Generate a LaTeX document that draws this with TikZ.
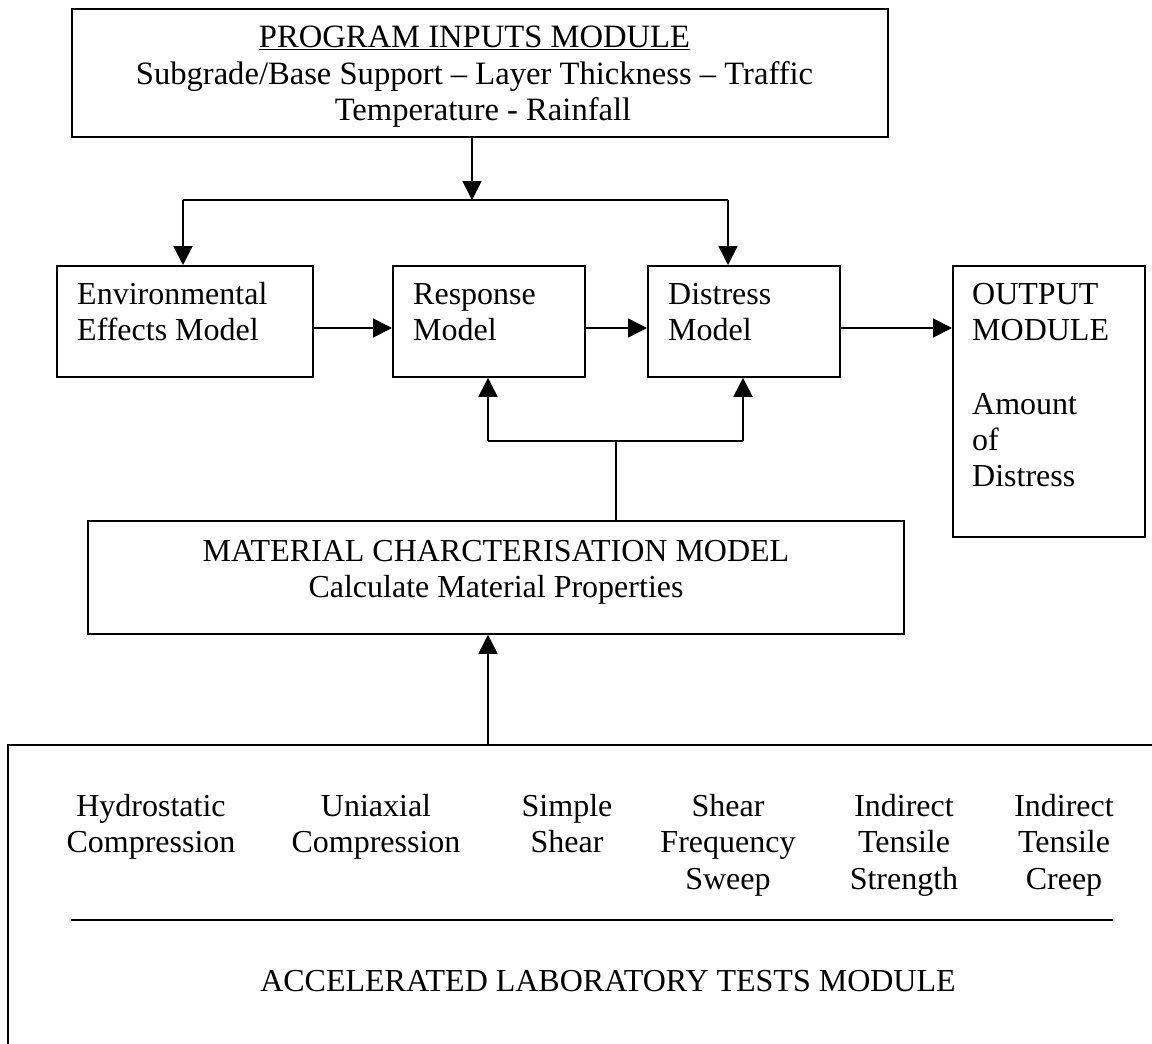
\documentclass[tikz,border=0pt]{standalone}
\usepackage{fontspec}
\setmainfont{Liberation Serif}
\usetikzlibrary{arrows.meta}
\begin{document}
\begin{tikzpicture}[x=1pt,y=-1pt,
  box/.style={draw, line width=1.8pt, inner sep=0pt, anchor=north west},
  txt/.style={inner sep=0pt, font=\fontsize{32}{36}\selectfont},
  bigtxt/.style={inner sep=0pt, font=\fontsize{32.6}{36}\selectfont},
  conn/.style={line width=1.8pt},
  arr/.style={conn, -{Triangle[length=19pt,width=19pt]}},
]
\clip (0,0) rectangle (1152,1044);
\fill[white] (0,0) rectangle (1152,1044);
% boxes
\node[box, minimum width=816pt, minimum height=128pt] (inp) at (71,8) {};
\node[box, minimum width=256pt, minimum height=111pt] (env) at (56,265) {};
\node[box, minimum width=192pt, minimum height=111pt] (resp) at (392,265) {};
\node[box, minimum width=192pt, minimum height=111pt] (dis) at (647,265) {};
\node[box, minimum width=192pt, minimum height=271pt] (out) at (952,265) {};
\node[box, minimum width=816pt, minimum height=113pt] (mat) at (87,520) {};
\node[box, minimum width=1250pt, minimum height=400pt] (lab) at (7,744) {};
% texts
\node[bigtxt, anchor=base] (ti1) at (474.5,47) {\underline{PROGRAM INPUTS MODULE}};
\node[bigtxt, anchor=base] (ti2) at (474.5,84) {Subgrade/Base Support -- Layer Thickness -- Traffic};
\node[bigtxt, anchor=base] (ti3) at (483,120) {Temperature - Rainfall};
\node[txt, anchor=base west] (te1) at (77,304) {Environmental};
\node[txt, anchor=base west] (te2) at (77,340) {Effects Model};
\node[txt, anchor=base west] (tr1) at (413,304) {Response};
\node[txt, anchor=base west] (tr2) at (413,340) {Model};
\node[txt, anchor=base west] (td1) at (668,304) {Distress};
\node[txt, anchor=base west] (td2) at (668,340) {Model};
\node[txt, anchor=base west] (to1) at (972,304) {OUTPUT};
\node[txt, anchor=base west] (to2) at (972,340) {MODULE};
\node[txt, anchor=base west] (to3) at (972,414) {Amount};
\node[txt, anchor=base west] (to4) at (972,450) {of};
\node[txt, anchor=base west] (to5) at (972,486) {Distress};
\node[txt, anchor=base] (tm1) at (496,561) {MATERIAL CHARCTERISATION MODEL};
\node[txt, anchor=base] (tm2) at (496,597) {Calculate Material Properties};
\node[txt, anchor=base] (a1) at (151,816) {Hydrostatic};
\node[txt, anchor=base] (a2) at (151,852) {Compression};
\node[txt, anchor=base] (b1) at (376,816) {Uniaxial};
\node[txt, anchor=base] (b2) at (376,852) {Compression};
\node[txt, anchor=base] (c1) at (567,816) {Simple};
\node[txt, anchor=base] (c2) at (567,852) {Shear};
\node[txt, anchor=base] (d1) at (728,816) {Shear};
\node[txt, anchor=base] (d2) at (728,852) {Frequency};
\node[txt, anchor=base] (d3) at (728,889) {Sweep};
\node[txt, anchor=base] (e1) at (904,816) {Indirect};
\node[txt, anchor=base] (e2) at (904,852) {Tensile};
\node[txt, anchor=base] (e3) at (904,889) {Strength};
\node[txt, anchor=base] (f1) at (1064,816) {Indirect};
\node[txt, anchor=base] (f2) at (1064,852) {Tensile};
\node[txt, anchor=base] (f3) at (1064,889) {Creep};
\node[txt, anchor=base] (tl) at (608,991) {ACCELERATED LABORATORY TESTS MODULE};
% connectors
\coordinate (split) at (472,200);
\coordinate (sl) at (183,200);
\coordinate (sr) at (728,200);
\draw[arr] (split |- inp.south) -- (split);
\draw[conn] (sl) -- (sr);
\draw[arr] (sl) -- (sl |- env.north);
\draw[arr] (sr) -- (sr |- dis.north);
\coordinate (hy) at (0,328);
\draw[arr] (env.east |- hy) -- (resp.west |- hy);
\draw[arr] (resp.east |- hy) -- (dis.west |- hy);
\draw[arr] (dis.east |- hy) -- (out.west |- hy);
\coordinate (ml) at (488,441);
\coordinate (mr) at (743,441);
\coordinate (mj) at (616,441);
\draw[conn] (mj |- mat.north) -- (mj);
\draw[conn] (ml) -- (mr);
\draw[arr] (ml) -- (ml |- resp.south);
\draw[arr] (mr) -- (mr |- dis.south);
\coordinate (la) at (488,744);
\draw[arr] (la) -- (la |- mat.south);
\coordinate (sepl) at (71,920);
\coordinate (sepr) at (1113,920);
\draw[conn] (sepl) -- (sepr);
\end{tikzpicture}
\end{document}
